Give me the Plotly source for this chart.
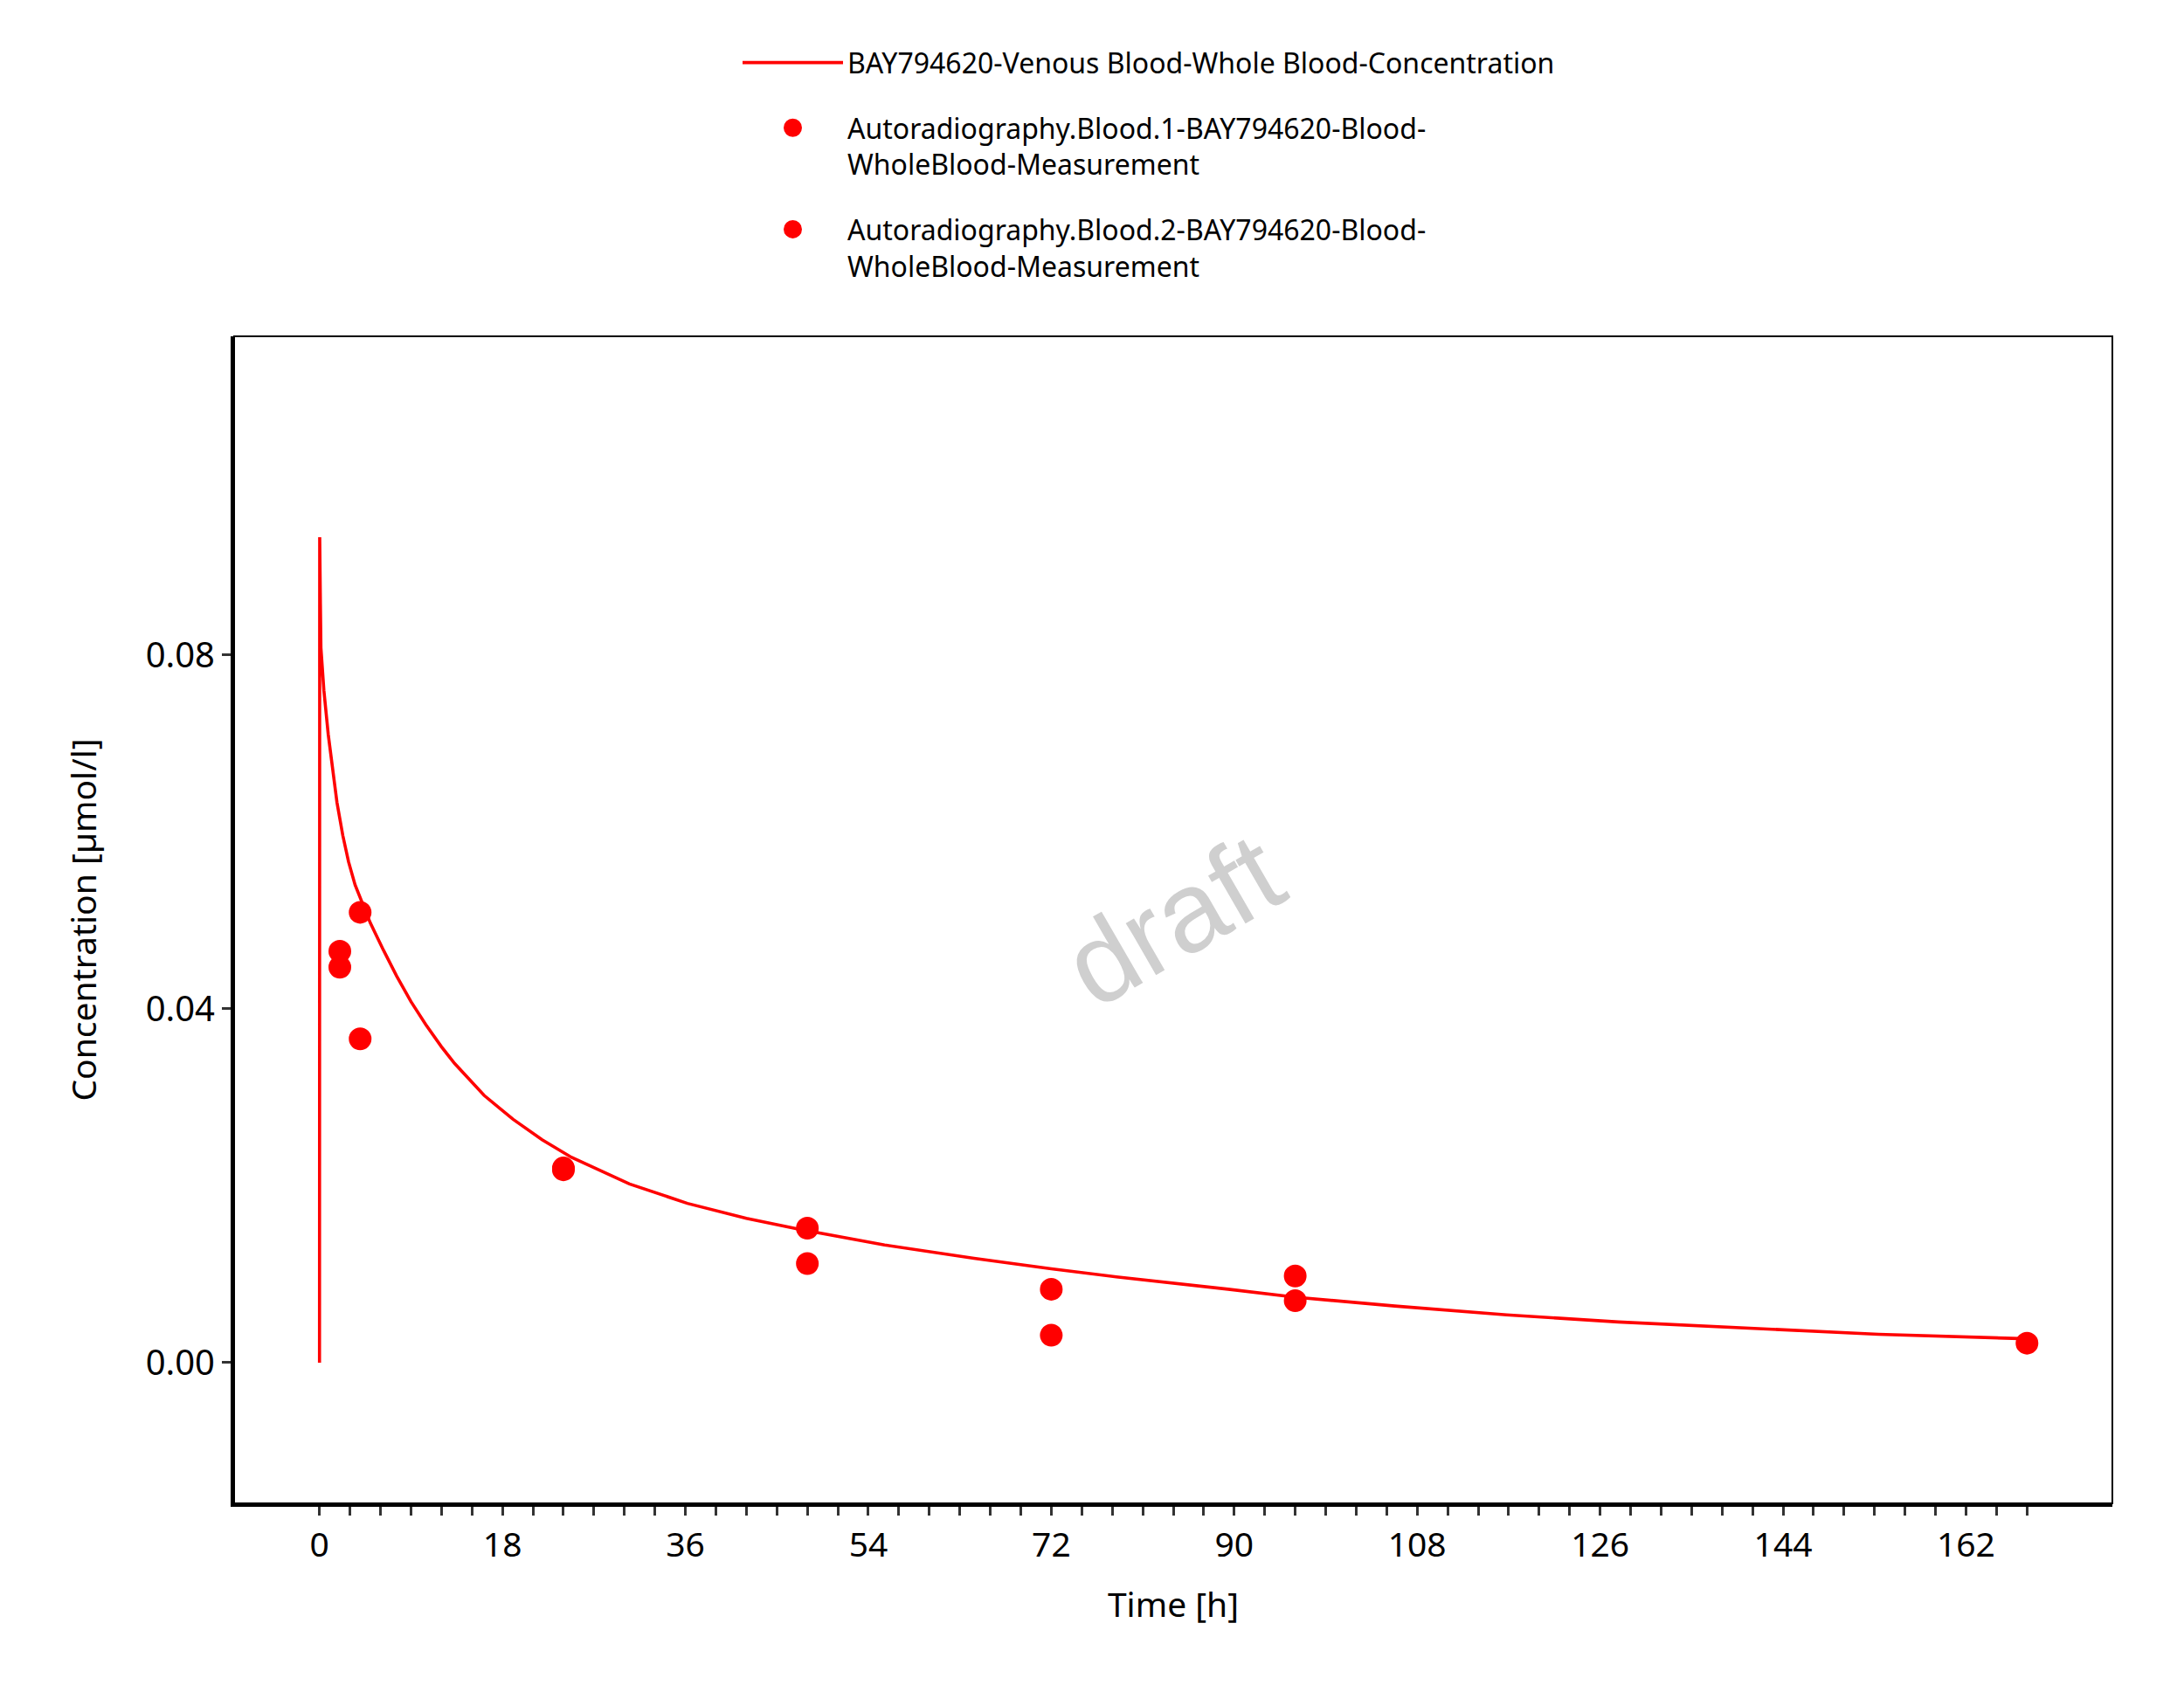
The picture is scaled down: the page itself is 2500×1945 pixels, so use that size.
import plotly.graph_objects as go

# ---- data ----
sim_time = [0, 0.02, 0.06, 0.09, 0.14, 0.43, 0.86, 1.29, 1.72, 2.29, 2.86, 3.5, 4.3, 5.0,
            6.3, 7.59, 9.0, 10.46, 12.0, 13.3, 16.2, 19.05, 21.9, 24.8, 30.5, 36.2, 42.0,
            47.1, 55.6, 64.4, 72, 78.4, 89.4, 96, 105.8, 116.8, 127.8, 138.7, 153.4, 168]
sim_conc = [0, 0.0933, 0.0890, 0.0857, 0.0808, 0.0760, 0.0710, 0.0668, 0.0633, 0.0596,
            0.0566, 0.0540, 0.0516, 0.0497, 0.0466, 0.0437, 0.0408, 0.0382, 0.0357,
            0.0338, 0.0302, 0.0275, 0.0252, 0.0232, 0.0202, 0.0180, 0.0163, 0.0151,
            0.0133, 0.0118, 0.0106, 0.0097, 0.0083, 0.0074, 0.0064, 0.0054, 0.0046,
            0.0040, 0.0032, 0.0027]

obs1_time = [2, 4, 24, 48, 72, 96, 168]
obs1_conc = [0.0465, 0.0509, 0.0220, 0.0152, 0.0083, 0.0098, 0.0022]
obs2_time = [2, 4, 24, 48, 72, 96]
obs2_conc = [0.0447, 0.0366, 0.0218, 0.0112, 0.0031, 0.0070]

x_tick_vals = list(range(0, 169, 3))
x_tick_text = [str(v) if v % 18 == 0 else "" for v in x_tick_vals]
y_tick_vals = [0.0, 0.04, 0.08]
y_tick_text = ["0.00", "0.04", "0.08"]

name_sim = "BAY794620-Venous Blood-Whole Blood-Concentration"
name_obs1 = "Autoradiography.Blood.1-BAY794620-Blood-<br>WholeBlood-Measurement"
name_obs2 = "Autoradiography.Blood.2-BAY794620-Blood-<br>WholeBlood-Measurement"

RED = "#ff0000"
FONT = "Noto Sans"

fig = go.Figure()
fig.add_trace(go.Scatter(x=sim_time, y=sim_conc, mode="lines", name=name_sim,
                         line=dict(color=RED, width=3.6), legendgroup="a"))
fig.add_trace(go.Scatter(x=obs1_time, y=obs1_conc, mode="markers", name=name_obs1,
                         marker=dict(color=RED, size=21, line=dict(color=RED, width=5)),
                         legendgroup="b"))
fig.add_trace(go.Scatter(x=obs2_time, y=obs2_conc, mode="markers", name=name_obs2,
                         marker=dict(color=RED, size=21, line=dict(color=RED, width=5)),
                         legendgroup="c"))

fig.update_layout(
    width=2500, height=1945,
    margin=dict(l=260, r=90, t=377, b=232),
    paper_bgcolor="white", plot_bgcolor="white",
    font=dict(family=FONT, size=39, color="black"),
    showlegend=True,
    legend=dict(x=577 / 2150, xanchor="left", y=1.255, yanchor="top",
                font=dict(family=FONT, size=32, color="black"),
                itemwidth=115, tracegroupgap=30, valign="top",
                bgcolor="rgba(0,0,0,0)"),
    xaxis=dict(range=[-8.4, 176.4], tickmode="array", tickvals=x_tick_vals,
               ticktext=x_tick_text, ticks="outside", ticklen=10, tickwidth=3,
               tickcolor="#333333", showline=True, linewidth=4, linecolor="black",
               showgrid=False, zeroline=False,
               title=dict(text="Time [h]", font=dict(size=39), standoff=33),
               tickfont=dict(size=39)),
    yaxis=dict(range=[-0.0159, 0.116], tickmode="array", tickvals=y_tick_vals,
               ticktext=y_tick_text, ticks="outside", ticklen=10, tickwidth=3,
               tickcolor="#333333", showline=True, linewidth=4, linecolor="black",
               showgrid=False, zeroline=False,
               title=dict(text="Concentration [µmol/l]", font=dict(size=39), standoff=45),
               tickfont=dict(size=40)),
    shapes=[dict(type="rect", xref="paper", yref="paper", x0=0, x1=1, y0=0, y1=1,
                 line=dict(color="black", width=2), fillcolor="rgba(0,0,0,0)", layer="above")],
    annotations=[dict(text="draft", xref="paper", yref="paper", x=0.5, y=0.5,
                      showarrow=False, textangle=-30,
                      font=dict(family="Liberation Sans", size=130, color="#cfcfcf"))],
)

fig.write_html("out.html")
